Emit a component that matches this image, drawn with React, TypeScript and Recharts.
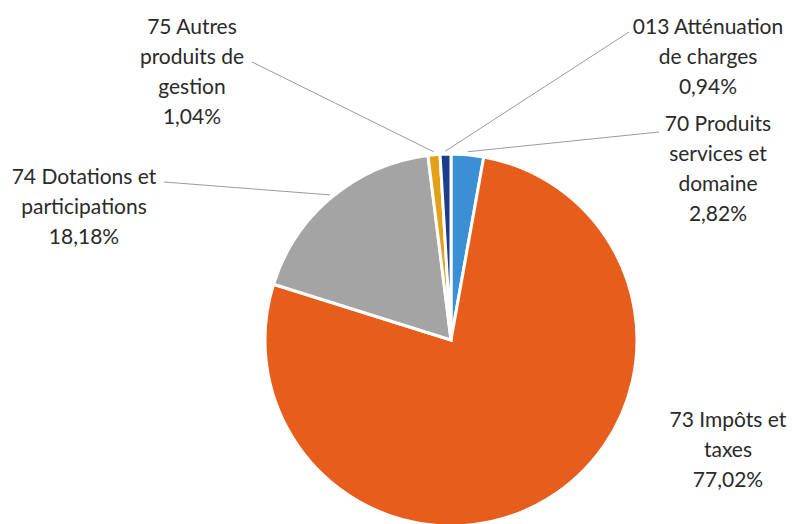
import React from "react";
import { PieChart, Pie, Cell } from "recharts";

const categories = [
  "70 Produits services et domaine",
  "73 Impôts et taxes",
  "74 Dotations et participations",
  "75 Autres produits de gestion",
  "013 Atténuation de charges",
];
const values = [2.82, 77.02, 18.18, 1.04, 0.94];
const labelLines = [
  ["70 Produits", "services et", "domaine"],
  ["73 Impôts et", "taxes"],
  ["74 Dotations et", "participations"],
  ["75 Autres", "produits de", "gestion"],
  ["013 Atténuation", "de charges"],
];
const colors = ["#3b8fd4", "#e65d1c", "#a4a4a4", "#e5a019", "#1c3c8c"];

// label layout: text centre x, first line y, leader start (or null)
const labelLayout = [
  { x: 718, y: 122, lead: [659, 132] },
  { x: 728, y: 418, lead: null },
  { x: 84, y: 175, lead: [164, 182] },
  { x: 192, y: 25, lead: [252, 62] },
  { x: 708, y: 25, lead: [629, 32] },
];

const data = categories.map((name, i) => ({ name, value: values[i] }));
const RADIAN = Math.PI / 180;
const fmt = (v: number) => v.toFixed(2).replace(".", ",") + "%";

const renderLabel = (props: any) => {
  const { cx, cy, midAngle, outerRadius, index } = props;
  const lay = labelLayout[index];
  const lines = [...labelLines[index], fmt(values[index])];
  const r = outerRadius + 3;
  const ex = cx + r * Math.cos(-midAngle * RADIAN);
  const ey = cy + r * Math.sin(-midAngle * RADIAN);
  return (
    <g key={"lbl" + index}>
      {lay.lead && (
        <line
          x1={lay.lead[0]}
          y1={lay.lead[1]}
          x2={ex}
          y2={ey}
          stroke="#9a9a9a"
          strokeWidth={1}
        />
      )}
      <text
        x={lay.x}
        y={lay.y}
        textAnchor="middle"
        fill="#2a2a2a"
        fontFamily="Lato, 'Open Sans', sans-serif"
        fontSize={21}
      >
        {lines.map((t, j) => (
          <tspan key={j} x={lay.x} y={lay.y + j * 30} dominantBaseline="central">
            {t}
          </tspan>
        ))}
      </text>
    </g>
  );
};

export default function App() {
  return (
    <div style={{ position: "absolute", left: 0, top: 0, background: "#ffffff" }}>
      <PieChart width={792} height={524} margin={{ top: 0, right: 0, bottom: 0, left: 0 }}>
        <Pie
          data={data}
          dataKey="value"
          nameKey="name"
          cx={451}
          cy={340}
          outerRadius={186}
          startAngle={90}
          endAngle={-270}
          stroke="#ffffff"
          strokeWidth={3}
          label={renderLabel}
          labelLine={false}
          isAnimationActive={false}
        >
          {data.map((d, i) => (
            <Cell key={d.name} fill={colors[i]} />
          ))}
        </Pie>
      </PieChart>
    </div>
  );
}
